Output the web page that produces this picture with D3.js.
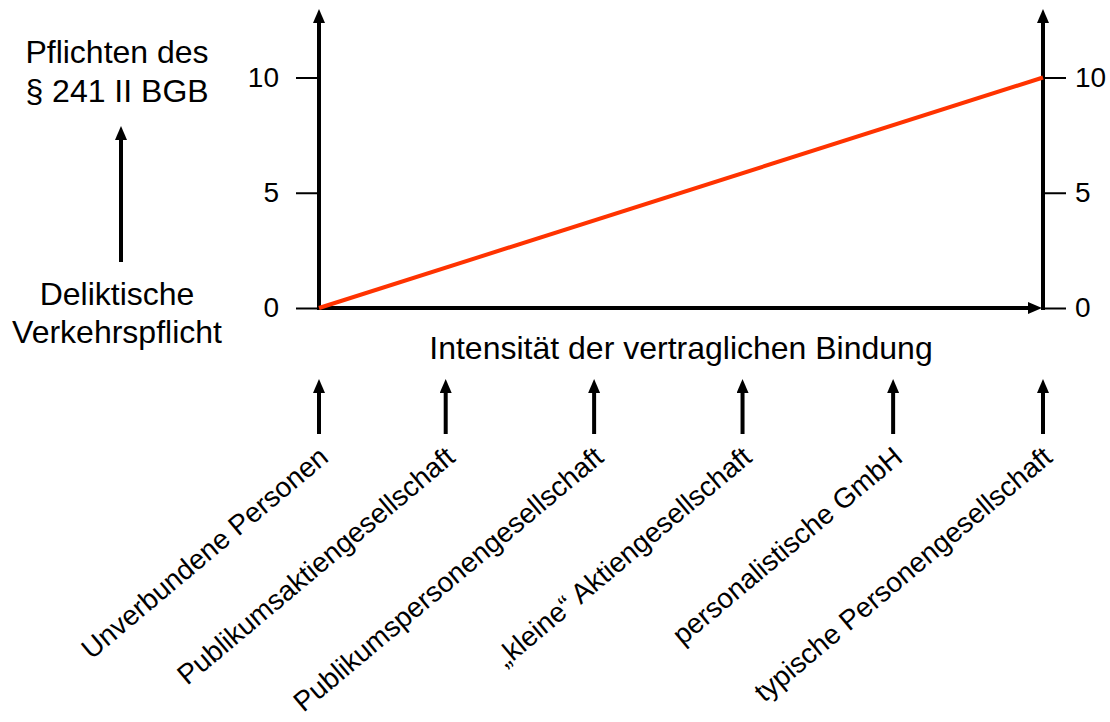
<!DOCTYPE html>
<html>
<head>
<meta charset="utf-8">
<script src="https://cdn.jsdelivr.net/npm/d3@7"></script>
<style>
  body { margin: 0; background: white; }
  text { font-family: "Liberation Sans", Arial, sans-serif; }
</style>
</head>
<body>
<div id="chart"></div>
<script>
// data
const categories = ["Unverbundene Personen", "Publikumsaktiengesellschaft", "Publikumspersonengesellschaft",
  "\u201Ekleine\u201C Aktiengesellschaft", "personalistische GmbH", "typische Personengesellschaft"];
const intensity = [0, 1.75, 3.8, 5.85, 7.93, 10];   // position of each category on the x axis
const lineX = [0, 10];
const lineY = [0, 10];
const yTicks = [0, 5, 10];
const xTitle = "Intensit\u00E4t der vertraglichen Bindung";
const topLabel = ["Pflichten des", "\u00A7 241 II BGB"];
const bottomLabel = ["Deliktische", "Verkehrspflicht"];

const W = 1110, H = 722;
const svg = d3.select("#chart").append("svg")
  .attr("width", W).attr("height", H);

svg.append("defs").append("marker")
  .attr("id", "arrow")
  .attr("markerUnits", "userSpaceOnUse")
  .attr("viewBox", "0 0 14 12")
  .attr("markerWidth", 14).attr("markerHeight", 12)
  .attr("refX", 1).attr("refY", 6)
  .attr("orient", "auto")
  .append("path").attr("d", "M0,0 L14,6 L0,12 Z").attr("fill", "#000");

const x = d3.scaleLinear().domain([0, 10]).range([319, 1043]);
const y = d3.scaleLinear().domain([0, 10]).range([308, 77.5]);

// left + right axes
const left = svg.append("g").attr("transform", `translate(${x(0)},0)`)
  .call(d3.axisLeft(y).tickValues(yTicks).tickSize(23).tickPadding(17));
left.select(".domain").remove();
const right = svg.append("g").attr("transform", `translate(${x(10)},0)`)
  .call(d3.axisRight(y).tickValues(yTicks).tickSize(23).tickPadding(9));
right.select(".domain").remove();
svg.selectAll(".tick line").attr("stroke", "#000").attr("stroke-width", 2);
svg.selectAll(".tick text").attr("font-size", 28).attr("fill", "#000")
  .style("font-family", "'Liberation Sans', Arial, sans-serif");

// axis arrows
const ax = svg.append("g").attr("stroke", "#000").attr("stroke-width", 4);
ax.append("line").attr("x1", x(0)).attr("y1", y(0) + 2).attr("x2", x(0)).attr("y2", 22)
  .attr("marker-end", "url(#arrow)");
ax.append("line").attr("x1", x(10)).attr("y1", y(0) + 2).attr("x2", x(10)).attr("y2", 22)
  .attr("marker-end", "url(#arrow)");
ax.append("line").attr("x1", x(0)).attr("y1", y(0)).attr("x2", x(10) - 14).attr("y2", y(0))
  .attr("marker-end", "url(#arrow)");

// red line
const pts = lineX.map((d, i) => [d, lineY[i]]);
svg.append("path")
  .datum(pts)
  .attr("fill", "none")
  .attr("stroke", "#ff3300")
  .attr("stroke-width", 4)
  .attr("d", d3.line().x(d => x(d[0])).y(d => y(d[1])));

// x title
svg.append("text")
  .attr("x", (x(0) + x(10)) / 2).attr("y", 359)
  .attr("text-anchor", "middle").attr("font-size", 32)
  .text(xTitle);

// left side labels
svg.append("text").attr("text-anchor", "middle").attr("font-size", 32)
  .selectAll("tspan").data(topLabel).enter().append("tspan")
  .attr("x", 117).attr("y", (d, i) => 63 + i * 38.5).text(d => d);
svg.append("text").attr("text-anchor", "middle").attr("font-size", 32)
  .selectAll("tspan").data(bottomLabel).enter().append("tspan")
  .attr("x", 117).attr("y", (d, i) => 305 + i * 38).text(d => d);
svg.append("line").attr("x1", 121).attr("y1", 262).attr("x2", 121).attr("y2", 139)
  .attr("stroke", "#000").attr("stroke-width", 4).attr("marker-end", "url(#arrow)");

// category arrows and labels
const cat = svg.selectAll(".cat")
  .data(categories)
  .enter().append("g").attr("class", "cat");
cat.append("line")
  .attr("x1", (d, i) => x(intensity[i])).attr("x2", (d, i) => x(intensity[i]))
  .attr("y1", 434).attr("y2", 392)
  .attr("stroke", "#000").attr("stroke-width", 4)
  .attr("marker-end", "url(#arrow)");
cat.append("text")
  .attr("transform", (d, i) => `translate(${x(intensity[i]) + 11},460) rotate(-40)`)
  .attr("text-anchor", "end")
  .attr("font-size", 28)
  .text(d => d);
</script>
</body>
</html>
